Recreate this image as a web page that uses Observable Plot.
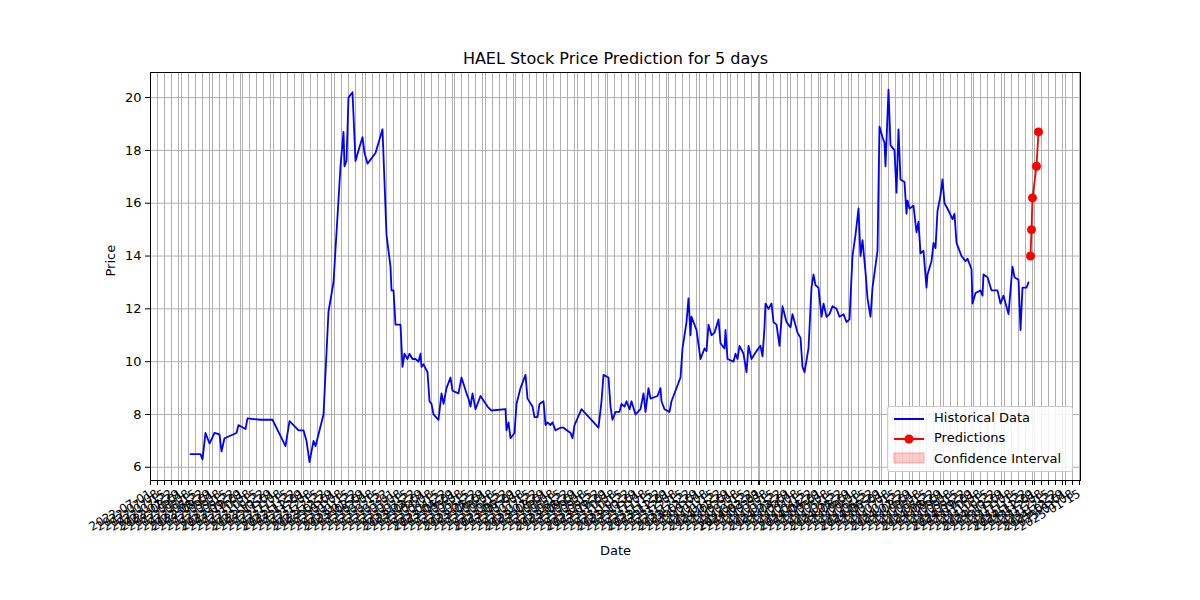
<!DOCTYPE html>
<html><head><meta charset="utf-8">
<script src="https://cdn.jsdelivr.net/npm/d3@7"></script>
<script src="https://cdn.jsdelivr.net/npm/@observablehq/plot@0.6"></script>
<style>
body{margin:0;font-family:"DejaVu Sans",sans-serif;}
#wrap{position:relative;width:1200px;height:600px;}
#legend{position:absolute;left:887px;top:406px;width:184px;height:64px;border:1px solid #ccc;border-radius:3px;background:rgba(255,255,255,.85);font-size:13px;}
#legend div{position:absolute;left:46px;}
</style></head><body>
<div id="wrap"><div id="chart"></div>
<div id="legend">
<svg width="40" height="64" style="position:absolute;left:4px;top:0">
<line x1="2" x2="32" y1="12" y2="12" stroke="blue" stroke-width="2"/>
<line x1="2" x2="32" y1="32" y2="32" stroke="red" stroke-width="2"/><circle cx="17" cy="32" r="4.5" fill="red"/>
<rect x="2" y="46" width="30" height="10" fill="rgba(255,0,0,0.2)" stroke="rgba(255,0,0,0.3)"/></svg>
<div style="top:3px">Historical Data</div><div style="top:23px">Predictions</div><div style="top:44px">Confidence Interval</div>
</div></div>
<script>
const startDate = new Date(2022, 6, 1);
// day offsets from startDate and prices
const histDays = [40,50,52,55,59,64,69,71,74,86,88,95,97,110,122,135,139,143,148,153,156,159,163,165,173,178,183,187,190,193,194,196,198,202,205,208,212,214,217,225,232,236,240,241,243,245,250,252,254,257,259,262,265,268,270,271,273,277,279,281,283,288,291,293,296,300,302,308,311,316,318,320,322,325,330,337,341,355,356,358,360,364,366,370,375,377,382,384,387,389,393,395,397,400,402,405,410,413,420,422,424,431,448,451,453,458,460,462,465,469,471,474,476,479,481,485,490,493,495,498,500,507,510,511,514,519,521,530,532,536,538,540,541,546,550,554,556,558,561,564,568,570,574,575,577,583,585,587,589,593,596,598,601,606,610,612,614,615,618,621,623,626,629,632,636,640,642,647,650,652,654,658,661,663,665,668,671,673,676,679,682,686,689,693,696,699,702,705,708,710,712,715,717,720,722,727,728,729,732,734,735,738,740,744,746,748,750,754,756,757,759,763,766,768,770,773,776,777,781,783,785,787,790,792,794,797,802,804,806,811,815,817,821,822,825,830,832,833,837,841,847,850,853,858,862,864,868,870,872,876,878];
const histPrice = [6.5,6.5,6.3,7.3,6.9,7.3,7.25,6.6,7.1,7.3,7.6,7.45,7.85,7.8,7.8,6.8,7.75,7.6,7.4,7.4,7.0,6.2,7.0,6.8,8.0,11.9,13.0,15.5,17.4,18.7,17.4,17.6,20.0,20.2,17.6,18.0,18.5,17.9,17.5,17.9,18.8,14.8,13.6,12.7,12.7,11.4,11.4,9.8,10.3,10.1,10.3,10.1,10.1,10.0,10.3,9.8,9.9,9.6,8.5,8.4,8.0,7.8,8.8,8.4,9.0,9.4,8.9,8.8,9.4,8.8,8.6,8.3,8.8,8.2,8.7,8.3,8.15,8.2,7.4,7.7,7.1,7.3,8.4,9.0,9.5,8.6,8.3,7.9,7.9,8.4,8.5,7.6,7.7,7.6,7.7,7.4,7.5,7.5,7.3,7.1,7.6,8.2,7.5,8.5,9.5,9.4,8.3,7.8,8.1,8.1,8.4,8.3,8.5,8.2,8.5,8.0,8.2,8.8,8.1,9.0,8.6,8.7,9.0,8.5,8.2,8.1,8.5,9.4,10.5,11.5,12.4,11.0,11.7,11.2,10.1,10.5,10.4,11.4,11.0,11.1,11.6,10.7,10.5,11.2,10.1,10.0,10.3,10.1,10.6,10.3,9.6,10.6,10.1,10.4,10.6,10.2,11.3,12.2,12.0,12.2,11.5,11.4,10.6,12.1,11.5,11.3,11.8,11.1,10.9,9.8,9.6,10.5,12.8,13.3,12.9,12.8,11.7,12.2,11.7,11.8,12.1,12.0,11.7,11.8,11.5,11.6,14.0,14.8,15.8,14.0,14.6,13.4,12.4,11.7,12.8,14.2,16.6,18.9,18.5,18.3,17.4,20.3,18.2,18.0,16.4,18.8,16.9,16.8,15.6,16.1,15.8,15.9,14.9,15.3,14.1,14.2,12.8,13.3,13.8,14.5,14.3,15.7,16.3,16.9,16.0,15.8,15.4,15.6,14.5,14.0,13.8,13.9,13.5,12.2,12.6,12.7,12.5,13.3,13.2,12.7,12.7,12.2,12.5,11.8,13.6,13.2,13.1,11.2,12.8,12.8,13.0];
const predDays = [880,881,882,886,888];
const predPrice = [14.0,15.0,16.2,17.4,18.7];
const yTicks = [6,8,10,12,14,16,18,20];

const toDate = d => d3.timeDay.offset(startDate, d);
const hist = histDays.map((d, i) => ({date: toDate(d), price: histPrice[i]}));
const pred = predDays.map((d, i) => ({date: toDate(d), price: predPrice[i]}));
const domain = [toDate(0), toDate(930)];
const xTicks = d3.timeDay.every(7).range(domain[0], domain[1]);
const fmt = d3.timeFormat("%Y-%m-%d");

const chart = Plot.plot({
  width: 1200, height: 600,
  marginLeft: 150, marginRight: 120, marginTop: 72, marginBottom: 120,
  style: {fontFamily: "DejaVu Sans", fontSize: "13px", background: "white"},
  x: {type: "time", domain, label: null, ticks: xTicks},
  y: {domain: [5.5, 20.95], label: null, ticks: yTicks},
  marks: [
    Plot.gridX(xTicks, {stroke: "#b0b0b0", strokeOpacity: 1}),
    Plot.gridY(yTicks, {stroke: "#b0b0b0", strokeOpacity: 1}),
    Plot.axisX(xTicks, {tickFormat: fmt, tickRotate: -30, tickSize: 5, fontSize: 12, stroke: "black"}),
    Plot.axisY(yTicks, {tickSize: 5, fontSize: 13}),
    Plot.frame({stroke: "black"}),
    Plot.lineY(hist, {x: "date", y: "price", stroke: "blue", strokeWidth: 1.8}),
    Plot.lineY(pred, {x: "date", y: "price", stroke: "red", strokeWidth: 1.8}),
    Plot.dot(pred, {x: "date", y: "price", fill: "red", r: 4.5}),
    Plot.text(["HAEL Stock Price Prediction for 5 days"], {frameAnchor: "top", dy: -20, fontSize: 16, fill: "black"}),
    Plot.text(["Date"], {frameAnchor: "bottom", dy: 74, fontSize: 13, fill: "black"}),
    Plot.text(["Price"], {frameAnchor: "left", dx: -40, rotate: -90, fontSize: 13, fill: "black"})
  ]
});
d3.select("#chart").append(() => chart);
</script></body></html>
